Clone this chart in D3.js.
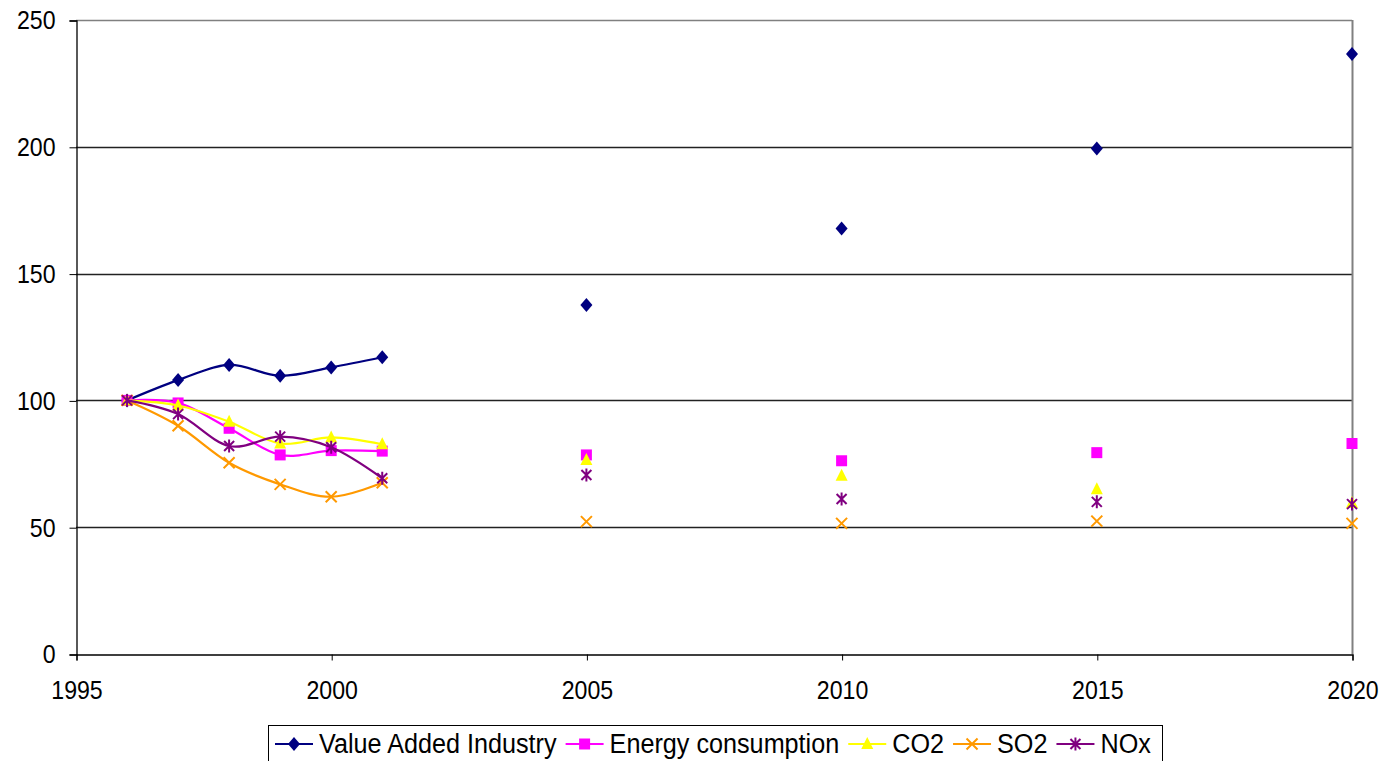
<!DOCTYPE html>
<html><head><meta charset="utf-8">
<script src="https://cdn.jsdelivr.net/npm/d3@7/dist/d3.min.js"></script>
<style>body{margin:0;background:#fff}svg{display:block;font-family:"Liberation Sans",Arial,sans-serif}</style>
</head><body><svg id="c" width="1385" height="761"></svg>
<script>
const years = [1996, 1997, 1998, 1999, 2000, 2001, 2005, 2010, 2015, 2020];
const valueAdded = [100, 108, 114, 109.7, 113, 117, 137.6, 167.8, 199.3, 236.6];
const energy     = [100, 99, 89, 78.5, 80.2, 80, 78.5, 76.2, 79.4, 83];
const co2        = [100, 98, 91.6, 83, 85.4, 82.7, 76.5, 70.3, 65, 59.5];
const so2        = [100, 90, 75.4, 66.9, 62, 67.5, 52.2, 51.5, 52.4, 51.5];
const nox        = [100, 94.6, 82, 85.7, 81.5, 69.3, 70.6, 61.1, 60, 59.1];
const seriesNames = ["Value Added Industry", "Energy consumption", "CO2", "SO2", "NOx"];
const xTicks = [1995, 2000, 2005, 2010, 2015, 2020];
const yTicks = [0, 50, 100, 150, 200, 250];

const colors = ["#000080", "#FF00FF", "#FFFF00", "#FF9900", "#800080"];
const markers = ["diamond", "square", "triangle", "cross", "star"];
const seriesVals = [valueAdded, energy, co2, so2, nox];

const svg = d3.select("#c");
const L = 76, R = 1352, T = 20, B = 654;
const x = d3.scaleLinear().domain([1995, 2020]).range([L, R]);
const y = d3.scaleLinear().domain([0, 250]).range([B, T]);
const SX = 0.89;

// gridlines
svg.append("g").selectAll("line").data(yTicks.filter(t => t > 0)).join("line")
  .attr("x1", L).attr("x2", R).attr("y1", d => Math.round(y(d)) + 0.5).attr("y2", d => Math.round(y(d)) + 0.5)
  .attr("stroke", d => d === 250 ? "#808080" : "#222").attr("stroke-width", 1.3);
// right border
svg.append("line").attr("x1", R + 0.5).attr("x2", R + 0.5).attr("y1", T).attr("y2", B)
  .attr("stroke", "#808080").attr("stroke-width", 2);

// axes
const yAxis = d3.axisLeft(y).tickValues(yTicks).tickSize(7).tickPadding(14);
const gy = svg.append("g").attr("transform", `translate(${L + 0.5},0.5)`).call(yAxis);
const xAxis = d3.axisBottom(x).tickValues(xTicks).tickFormat(d3.format("d")).tickSize(6).tickPadding(20);
const gx = svg.append("g").attr("transform", `translate(0.5,${B + 0.5})`).call(xAxis);
[gx, gy].forEach(g => {
  g.select(".domain").attr("stroke", "#000").attr("stroke-width", 1.3);
  g.selectAll(".tick line").attr("stroke", "#000");
  g.selectAll("text").attr("font-size", 26).attr("fill", "#000")
    .attr("font-family", '"Liberation Sans", Arial, sans-serif').attr("transform", `scale(${SX},1)`);
});
gy.selectAll("text").attr("x", -21 / SX);

function markerPath(type) {
  const p = d3.path();
  if (type === "diamond") {
    p.moveTo(0, -7); p.lineTo(6, 0); p.lineTo(0, 7); p.lineTo(-6, 0); p.closePath();
  } else if (type === "square") {
    p.rect(-5.5, -5.5, 11, 11);
  } else if (type === "triangle") {
    p.moveTo(0, -7); p.lineTo(6, 5); p.lineTo(-6, 5); p.closePath();
  } else if (type === "cross") {
    p.moveTo(-5.5, -5.5); p.lineTo(5.5, 5.5); p.moveTo(5.5, -5.5); p.lineTo(-5.5, 5.5);
  } else {
    p.moveTo(-5, -5); p.lineTo(5, 5); p.moveTo(5, -5); p.lineTo(-5, 5); p.moveTo(0, -6.5); p.lineTo(0, 6.5);
  }
  return p.toString();
}
function drawMarker(g, type, color) {
  const path = g.append("path").attr("d", markerPath(type));
  if (type === "cross" || type === "star") path.attr("fill", "none").attr("stroke", color).attr("stroke-width", 2);
  else path.attr("fill", color).attr("stroke", "none");
}

const line = d3.line().x(d => x(d.year)).y(d => y(d.v)).curve(d3.curveCardinal.tension(0));

seriesVals.forEach((vals, i) => {
  const pts = years.map((yr, j) => ({year: yr, v: vals[j]}));
  const segs = [];
  let cur = [pts[0]];
  for (let j = 1; j < pts.length; j++) {
    if (pts[j].year - pts[j - 1].year === 1) cur.push(pts[j]);
    else { segs.push(cur); cur = [pts[j]]; }
  }
  segs.push(cur);
  const g = svg.append("g");
  segs.filter(s => s.length > 1).forEach(s => {
    g.append("path").attr("d", line(s)).attr("fill", "none").attr("stroke", colors[i]).attr("stroke-width", 2.2);
  });
  pts.forEach(p => {
    const mg = g.append("g").attr("transform", `translate(${x(p.year)},${y(p.v)})`);
    drawMarker(mg, markers[i], colors[i]);
  });
});

// legend
const LSX = 0.933;
const lg = svg.append("g");
lg.append("rect").attr("x", 268.5).attr("y", 725.5).attr("width", 894).attr("height", 44)
  .attr("fill", "#fff").attr("stroke", "#000").attr("stroke-width", 1);
let lx = 275;
seriesNames.forEach((name, i) => {
  const g = lg.append("g");
  g.append("line").attr("x1", lx).attr("x2", lx + 38).attr("y1", 744).attr("y2", 744)
    .attr("stroke", colors[i]).attr("stroke-width", 2.2);
  const mg = g.append("g").attr("transform", `translate(${lx + 19},744)`);
  drawMarker(mg, markers[i], colors[i]);
  const tx = lx + 44;
  const t = g.append("text").attr("x", 0).attr("y", 0).attr("font-size", 27)
    .attr("fill", "#000").attr("transform", `translate(${tx},753) scale(${LSX},1)`).text(name);
  const w = t.node().getComputedTextLength() * LSX;
  lx = tx + w + 9;
});
</script></body></html>
